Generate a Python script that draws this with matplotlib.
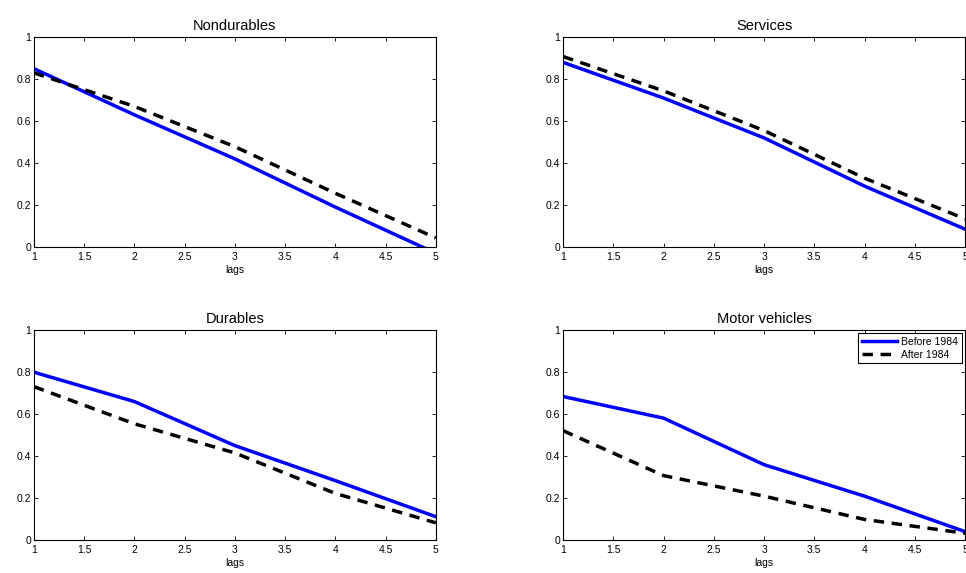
import numpy as np
import matplotlib
matplotlib.use("Agg")
import matplotlib.pyplot as plt

plt.rcParams['font.family'] = ['Liberation Sans', 'DejaVu Sans']

lags = [1, 2, 3, 4, 5]
titles = ["Nondurables", "Services", "Durables", "Motor vehicles"]

# before 1984 (solid blue), after 1984 (dashed black)
before = [
    [0.85, 0.63, 0.42, 0.19, -0.03],
    [0.88, 0.71, 0.52, 0.29, 0.085],
    [0.80, 0.66, 0.45, 0.283, 0.111],
    [0.684, 0.581, 0.359, 0.209, 0.04],
]
after = [
    [0.83, 0.67, 0.478, 0.256, 0.043],
    [0.908, 0.744, 0.555, 0.328, 0.134],
    [0.731, 0.554, 0.415, 0.222, 0.082],
    [0.521, 0.307, 0.209, 0.098, 0.032],
]

xticks = [1, 1.5, 2, 2.5, 3, 3.5, 4, 4.5, 5]
xticklabels = ["1", "1.5", "2", "2.5", "3", "3.5", "4", "4.5", "5"]
yticks = [0, 0.2, 0.4, 0.6, 0.8, 1]
yticklabels = ["0", "0.2", "0.4", "0.6", "0.8", "1"]

fig = plt.figure(figsize=(9.66, 5.73), dpi=100)

positions = [
    [0.0352, 0.569, 0.416, 0.366],
    [0.583, 0.569, 0.416, 0.366],
    [0.0352, 0.0576, 0.416, 0.366],
    [0.583, 0.0576, 0.416, 0.366],
]

for i in range(4):
    ax = fig.add_axes(positions[i])
    ax.plot(lags, before[i], color="#0000ff", lw=2.5, label="Before 1984")
    ax.plot(lags, after[i], color="black", lw=2.5, ls=(0, (3, 2.2)), label="After 1984")
    ax.set_xlim(1, 5)
    ax.set_ylim(0, 1)
    ax.set_xticks(xticks)
    ax.set_xticklabels(xticklabels)
    ax.set_yticks(yticks)
    ax.set_yticklabels(yticklabels)
    ax.tick_params(direction="in", top=True, right=True, labelsize=7.5, length=3,
                   width=0.6)
    ax.tick_params(axis="x", pad=3.5)
    ax.tick_params(axis="y", pad=2)
    for s in ax.spines.values():
        s.set_linewidth(0.8)
    ax.set_xlabel("lags", fontsize=7.5, labelpad=2.5)
    ax.set_title(titles[i], fontsize=10.5, pad=5)
    if i == 3:
        leg = ax.legend(loc="upper right", fontsize=7.5, fancybox=False, framealpha=1,
                        edgecolor="black", handlelength=3.4, borderpad=0.35,
                        labelspacing=0.25, handletextpad=0.4, borderaxespad=0.3)
        leg.get_frame().set_linewidth(0.8)

fig.savefig("out.png", dpi=100)
